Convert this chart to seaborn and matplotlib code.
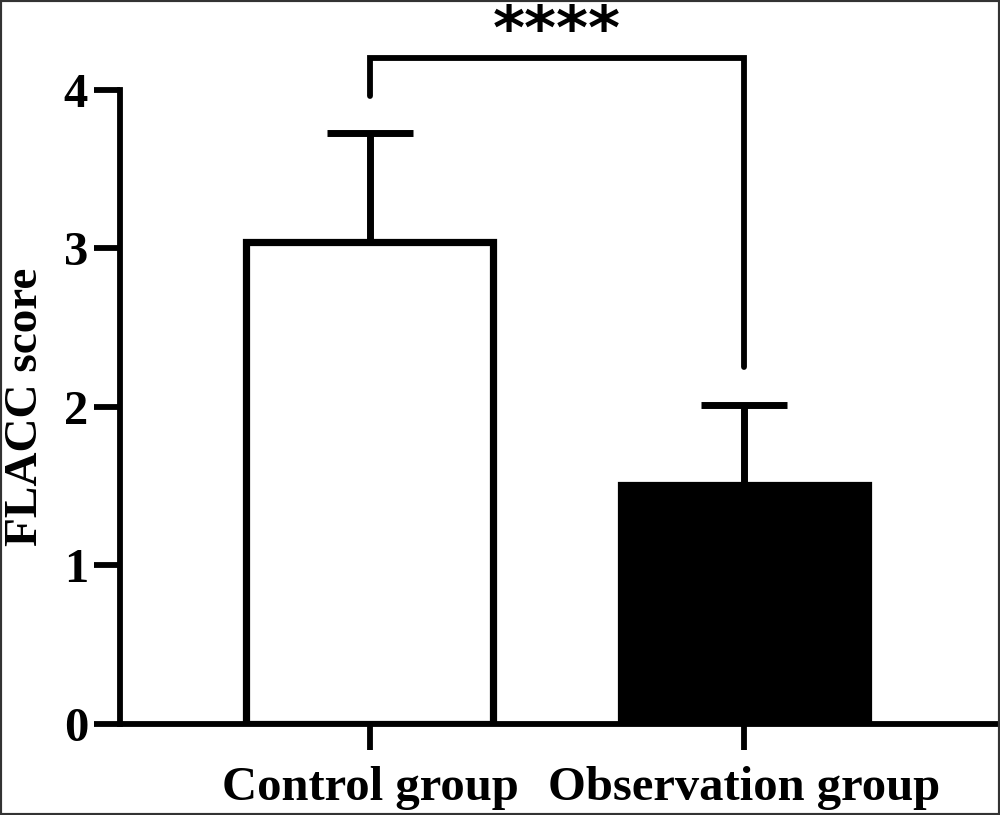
import matplotlib
matplotlib.use("Agg")
import matplotlib.pyplot as plt
import seaborn as sns
import numpy as np

# chart data
groups = ["Control group", "Observation group"]
means = [3.04, 1.51]
sds = [0.69, 0.50]
bar_colors = ["white", "black"]
y_ticks = [0, 1, 2, 3, 4]
signif = "****"

sns.set_style("ticks", rc={"axes.edgecolor": "black", "text.color": "black",
                           "xtick.color": "black", "ytick.color": "black",
                           "axes.labelcolor": "black"})
plt.rcParams["font.family"] = ["Liberation Serif", "DejaVu Serif"]
plt.rcParams["font.weight"] = "bold"

fig = plt.figure(figsize=(10, 8.15), dpi=100)
ax = fig.add_axes([0.12, 0.1117, 0.877, 0.778])

sns.barplot(x=groups, y=means, hue=groups, palette=bar_colors, legend=False,
            errorbar=None, width=0.66, edgecolor="black", linewidth=5.2, ax=ax, zorder=3)

ax.errorbar(range(len(groups)), means, yerr=[np.zeros(len(sds)), sds], fmt="none",
            ecolor="black", elinewidth=5, capsize=31, capthick=5, zorder=2)

ax.set_xlim(-0.668, 1.676)
ax.set_ylim(0, 4)
ax.set_yticks(y_ticks)
ax.set_ylabel("FLACC score", fontsize=34, fontweight="bold", labelpad=12)
ax.set_xlabel("")

for side in ["top", "right"]:
    ax.spines[side].set_visible(False)
for side in ["left", "bottom"]:
    ax.spines[side].set_linewidth(4.2)
ax.tick_params(axis="both", width=4.2, length=19, labelsize=35, pad=4)
ax.tick_params(axis="x", pad=11)
for lab in ax.get_xticklabels() + ax.get_yticklabels():
    lab.set_fontweight("bold")

# significance bracket
top = 4.2
ax.plot([0, 0, 1, 1], [3.96, top, top, 2.25], color="black", lw=4.2,
        clip_on=False, solid_joinstyle="miter")
ax.text(0.5, 4.36, signif, ha="center", va="center", fontsize=44,
        fontweight="bold", family="DejaVu Sans", clip_on=False)

# thin dark frame round the figure
fig.patches.append(plt.Rectangle((0, 0), 1, 1, transform=fig.transFigure,
                                 fill=False, edgecolor="#333333", lw=3))

fig.savefig("out.png", dpi=100)
